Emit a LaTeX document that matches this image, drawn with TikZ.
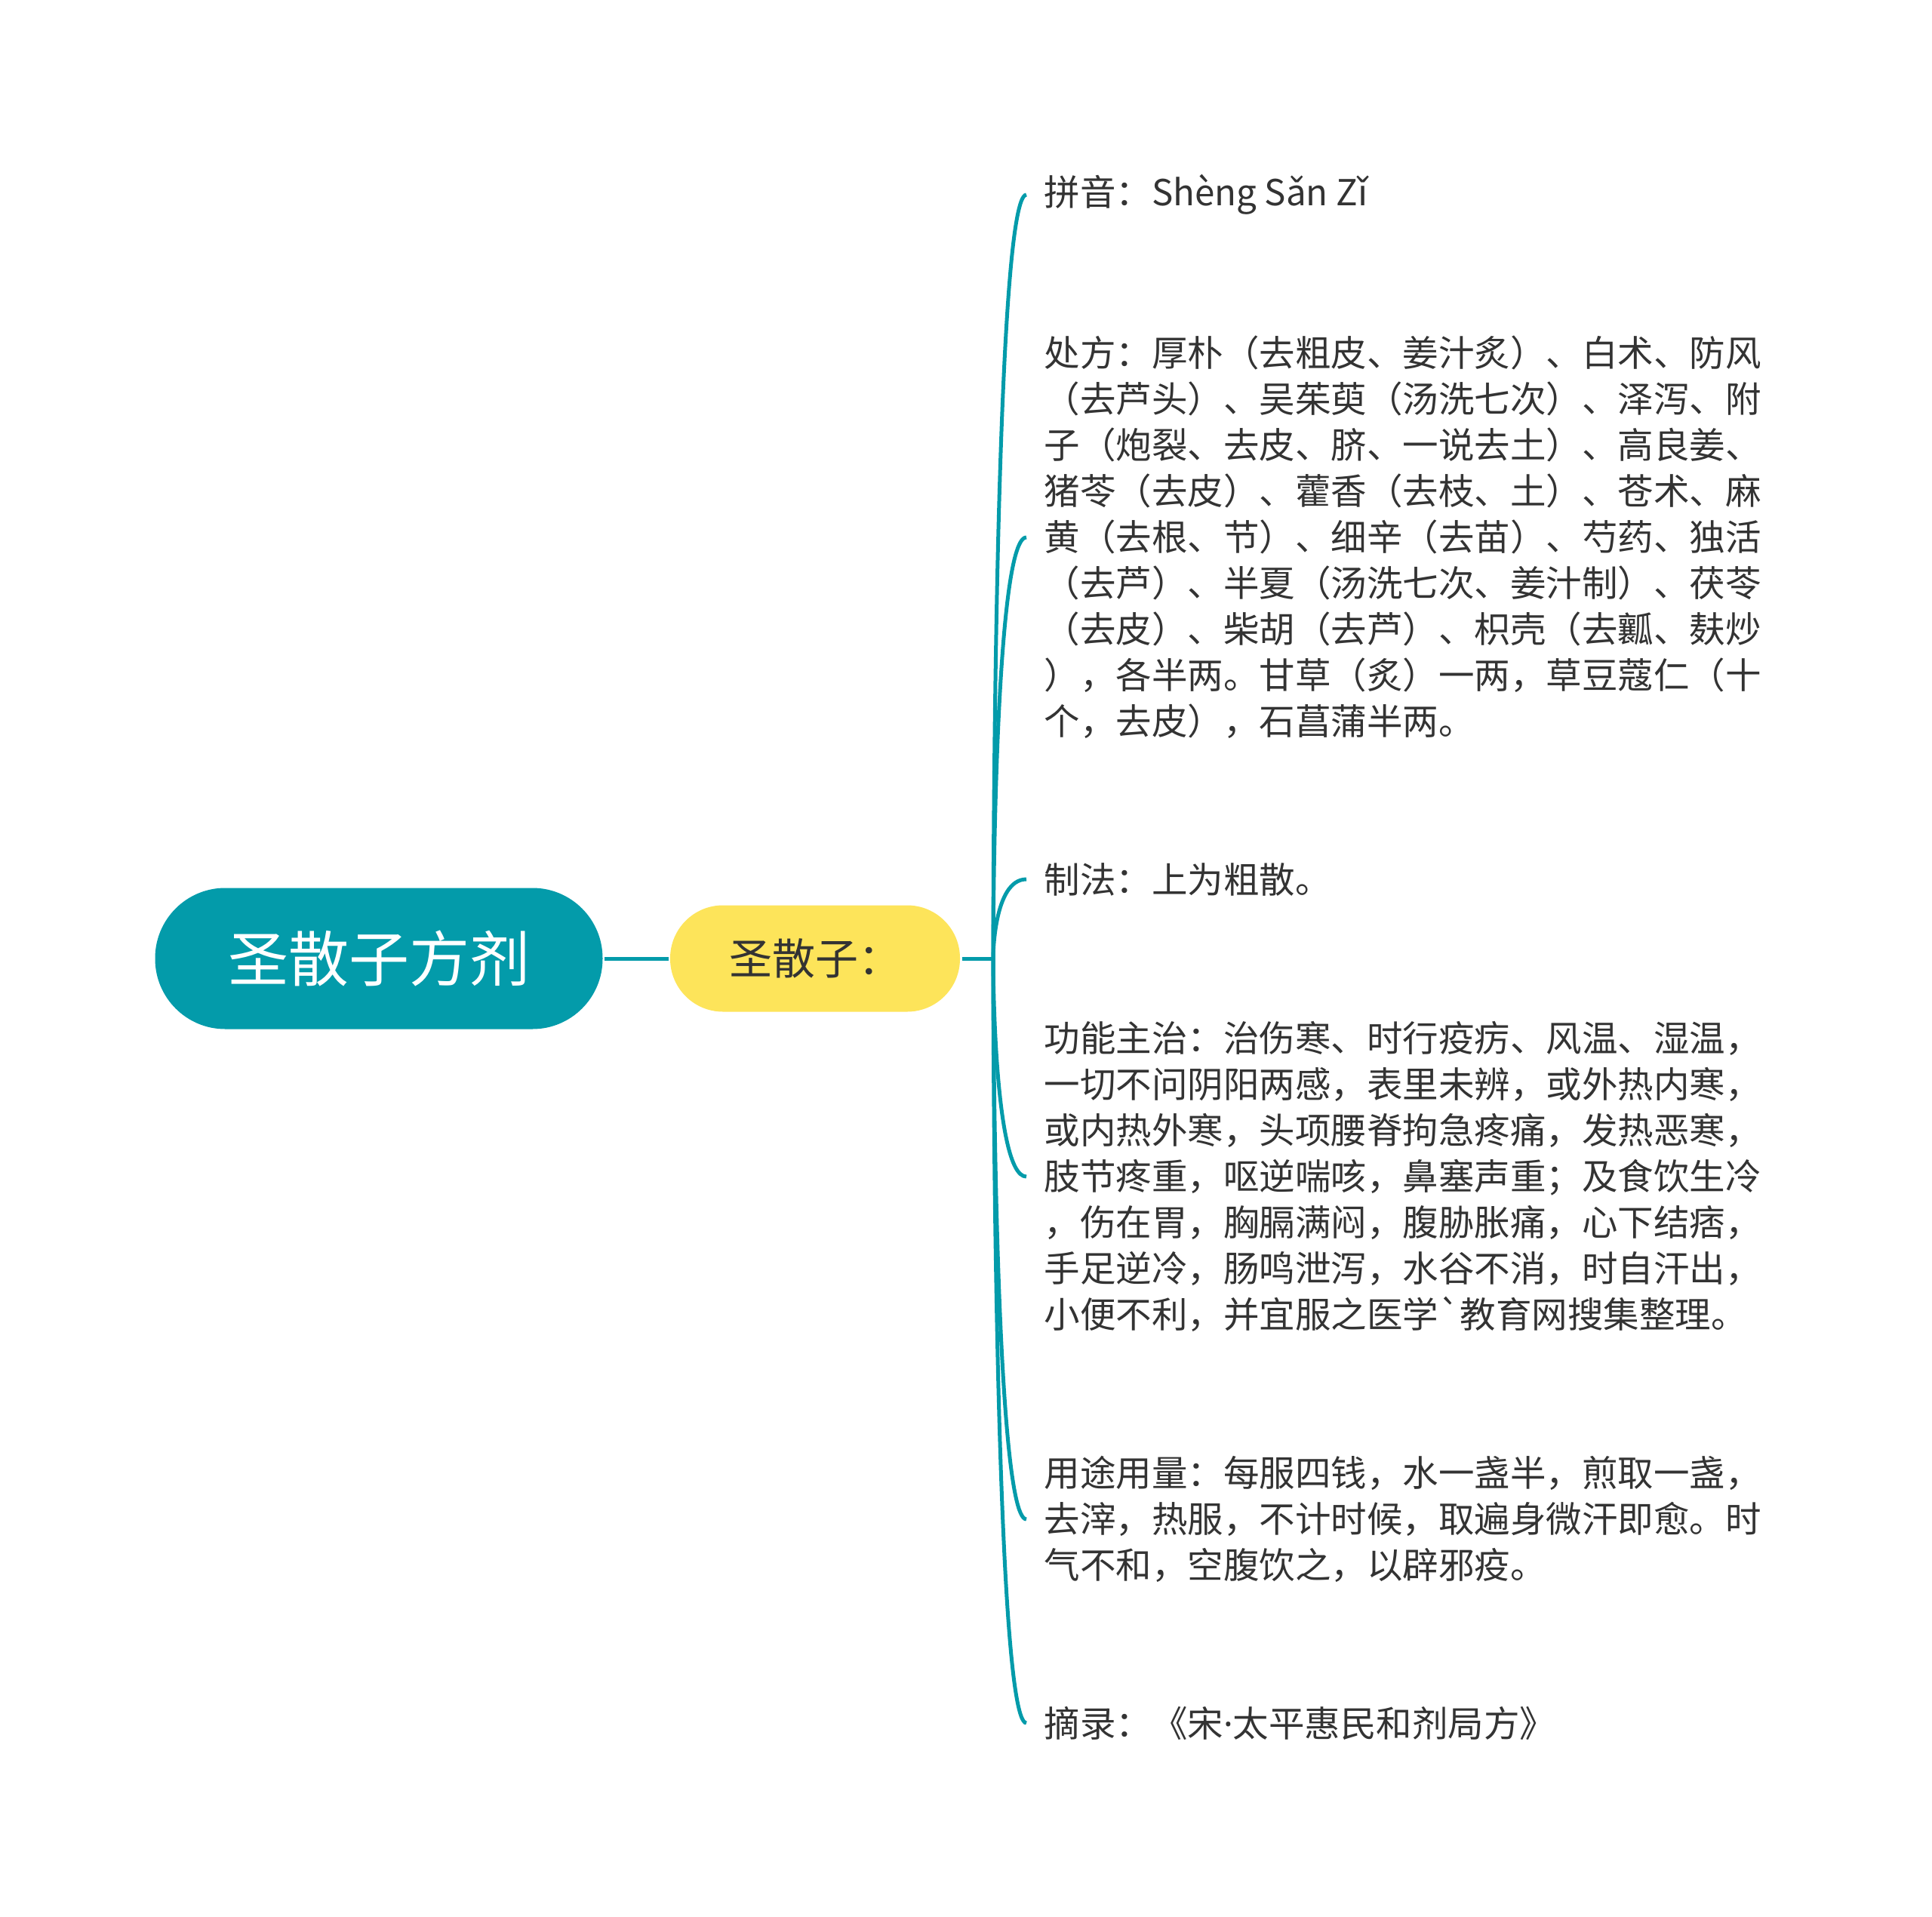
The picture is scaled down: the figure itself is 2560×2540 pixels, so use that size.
\documentclass[tikz,border=0pt]{standalone}
\usepackage{fontspec}
\usepackage{tikz}
\usetikzlibrary{positioning}
\newfontfamily\cjk{Noto Sans CJK SC}
\newfontfamily\latin{Noto Sans}
\definecolor{teal1}{RGB}{3,155,170}
\definecolor{yellow1}{RGB}{253,228,90}
\definecolor{ink1}{RGB}{51,51,51}

\begin{document}
\begin{tikzpicture}[x=1pt,y=-1pt,line width=5pt,draw=teal1]
        \tikzstyle{root}=[fill=teal1,draw=none,text=white,rounded corners=93pt,
                          minimum width=593pt,minimum height=187pt,
                          font=\cjk\fontsize{80}{96}\selectfont]
        \tikzstyle{sub}=[fill=yellow1,draw=none,text=ink1,rounded corners=70pt,
                         minimum width=384pt,minimum height=141pt,
                         font=\cjk\fontsize{57}{70}\selectfont]
        \tikzstyle{leaf}=[anchor=west,align=left,text=ink1,inner ysep=0pt,inner xsep=21pt,
                          font=\cjk\fontsize{47.5}{61}\selectfont]
        \tikzstyle{branch}=[teal1,line width=5pt]

        \useasboundingbox (0,0) rectangle (2560,2540);

        \node[root]   (root) at (502,1270)  {圣散子方剂};
        \node[sub]    (sub)  at (1080,1270) {圣散子：};
        \coordinate   (hub)  at (1316,1270);

        \node[leaf] (pinyin)  at (1360,258)  {拼音：Shèng Sǎn Zǐ};
        \node[leaf] (chufang) at (1360,712)  {处方：厚朴（去粗皮、姜汁炙）、白术、防风\\
                                              （去芦头）、吴茱萸（汤洗七次）、泽泻、附\\
                                              子（炮裂、去皮、脐、一说去土）、高良姜、\\
                                              猪苓（去皮）、藿香（去枝、土）、苍术、麻\\
                                              黄（去根、节）、细辛（去苗）、芍药、独活\\
                                              （去芦）、半夏（汤洗七次、姜汁制）、茯苓\\
                                              （去皮）、柴胡（去芦）、枳壳（去瓤、麸炒\\
                                              ），各半两。甘草（炙）一两，草豆蔻仁（十\\
                                              个，去皮），石菖蒲半两。};
        \node[leaf] (zhifa)   at (1360,1165) {制法：上为粗散。};
        \node[leaf] (gongneng) at (1360,1559) {功能主治：治伤寒、时行疫疠、风温、湿温，\\
                                              一切不问阴阳两感，表里未辨，或外热内寒，\\
                                              或内热外寒，头项腰脊拘急疼痛，发热恶寒，\\
                                              肢节疼重，呕逆喘咳，鼻塞声重；及食饮生冷\\
                                              ，伤在胃，胸膈满闷，腹胁胀痛，心下结痞，\\
                                              手足逆冷，肠鸣泄泻，水谷不消，时自汗出，\\
                                              小便不利，并宜服之医学`教育网搜集整理。};
        \node[leaf] (yongtu)  at (1360,2013) {用途用量：每服四钱，水一盏半，煎取一盏，\\
                                              去滓，热服，不计时候，取遍身微汗即愈。时\\
                                              气不和，空腹饮之，以辟邪疫。};
        \node[leaf] (zhailu)  at (1360,2283) {摘录：《宋{\latin ·}太平惠民和剂局方》};

        % trunk and branches
        \draw[branch] (root) -- (sub);
        \draw[branch] (sub.east) -- (hub);
        \foreach \n in {pinyin,chufang,zhifa,gongneng,yongtu,zhailu}
            \draw[branch] (hub) .. controls (hub) and (hub |- \n.west) .. (\n.west);
\end{tikzpicture}
\end{document}
